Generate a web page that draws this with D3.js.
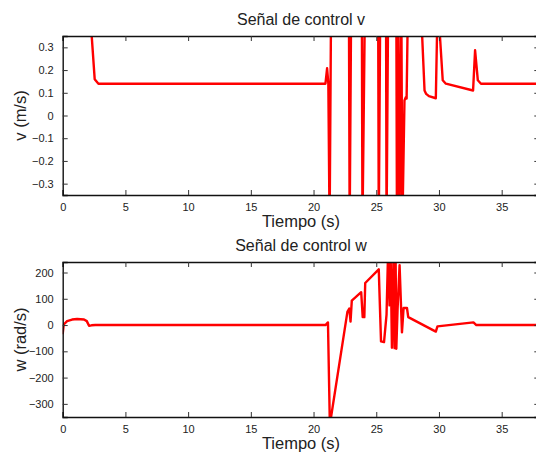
<!DOCTYPE html>
<html>
<head>
<meta charset="utf-8">
<script src="https://cdn.jsdelivr.net/npm/d3@7/dist/d3.min.js"></script>
<style>
  body { margin: 0; background: #fff; }
  text { font-family: "Liberation Sans", Arial, sans-serif; fill: #222; }
</style>
</head>
<body>
<div id="chart"></div>
<script>
// Señal de control v (m/s)
const vTime = [0, 2.3, 2.55, 2.85, 20.95, 21.08, 21.18, 21.28, 21.4,
  22.82, 22.88, 23.0, 23.85, 23.9, 24.1, 25.15, 25.2, 25.32, 25.78, 25.82, 25.95,
  26.6, 26.65, 26.75, 26.85, 27.0, 27.08, 27.25, 27.35, 27.42, 27.53,
  28.62, 28.85, 28.98, 29.2, 29.75, 29.86, 30.02, 30.3, 30.55, 32.72, 32.88, 33.1, 33.35, 38];
const vValue = [0.6, 0.36, 0.16, 0.14, 0.14, 0.208, 0.14, -0.5, 0.5,
  0.5, -0.5, 0.5, 0.5, -0.5, 0.5, 0.5, -0.5, 0.5, 0.5, -0.5, 0.5,
  0.5, -0.5, 0.5, -0.5, 0.5, -0.5, 0.066, 0.08, 0.075, 0.5,
  0.4, 0.11, 0.095, 0.085, 0.076, 0.4, 0.4, 0.155, 0.14, 0.11, 0.287, 0.155, 0.14, 0.14];

// Señal de control w (rad/s)
const wTime = [0, 0.08, 0.35, 0.75, 1.15, 1.7, 1.92, 2.1, 2.3, 2.6, 20.95, 21.15, 21.3,
  22.7, 22.85, 22.95, 23.05, 23.8, 23.92, 24.05, 24.12, 25.2, 25.38, 25.62, 25.82,
  25.95, 26.06, 26.14, 26.25, 26.38, 26.46, 26.54, 26.6, 26.7, 26.86, 27.05, 27.18,
  27.45, 27.55, 29.75, 29.88, 32.75, 32.98, 38];
const wValue = [-35, 2, 15, 21, 23, 21, 15, -3, -1, 0, 0, 10, -380,
  50, 63, 13, 93, 125, 30, 30, 160, 212, -62, -65, 40,
  290, 75, 290, -86, 280, -88, 280, -90, 60, 228, -28, 65,
  65, 30, -25, -5, 10, 0, 0];

const xTicks = [0, 5, 10, 15, 20, 25, 30, 35];
const vTicks = [-0.3, -0.2, -0.1, 0, 0.1, 0.2, 0.3];
const wTicks = [-300, -200, -100, 0, 100, 200];

const width = 536, height = 458;
const svg = d3.select("#chart").append("svg")
  .attr("width", width).attr("height", height);

const x = d3.scaleLinear().domain([0, 38]).range([62.7, 539.3]);
const minus = (s) => s.replace("-", "\u2212");

function drawPanel(opt) {
  const { times, values, domain, ticks, fmt, top, bottom, title, ylabel, id } = opt;
  const y = d3.scaleLinear().domain(domain).range([bottom, top]);
  const g = svg.append("g");

  g.append("clipPath").attr("id", id)
    .append("rect")
    .attr("x", x.range()[0]).attr("y", top)
    .attr("width", x.range()[1] - x.range()[0]).attr("height", bottom - top);

  const pts = times.map((t, i) => [t, values[i]]);
  g.append("path")
    .datum(pts)
    .attr("clip-path", `url(#${id})`)
    .attr("fill", "none")
    .attr("stroke", "#ff0000")
    .attr("stroke-width", 2.4)
    .attr("stroke-linejoin", "round")
    .attr("d", d3.line().x((d) => x(d[0])).y((d) => y(d[1])));

  // axes with inward ticks, box style
  const bottomAxis = d3.axisBottom(x).tickValues(xTicks).tickSize(-5).tickPadding(8)
    .tickFormat(d3.format("d"));
  const topAxis = d3.axisTop(x).tickValues(xTicks).tickSize(-5).tickFormat("");
  const leftAxis = d3.axisLeft(y).tickValues(ticks).tickSize(-5).tickPadding(9)
    .tickFormat((d) => (d === 0 ? "0" : minus(fmt(d))));
  const rightAxis = d3.axisRight(y).tickValues(ticks).tickSize(-5).tickFormat("");

  const axes = [
    [bottomAxis, `translate(0,${bottom})`],
    [topAxis, `translate(0,${top})`],
    [leftAxis, `translate(${x.range()[0]},0)`],
    [rightAxis, `translate(${x.range()[1]},0)`],
  ];
  axes.forEach(([ax, tr]) => {
    const a = g.append("g").attr("transform", tr).call(ax);
    a.select(".domain").attr("stroke", "#111").attr("stroke-width", 1.4);
    a.selectAll(".tick line").attr("stroke", "#333");
    a.selectAll(".tick text").style("font-size", "11px").attr("fill", "#222");
  });

  const cx = (x.range()[0] + x.range()[1]) / 2;
  g.append("text")
    .attr("x", cx).attr("y", top - 11)
    .attr("text-anchor", "middle")
    .style("font-size", "16px")
    .text(title);

  g.append("text")
    .attr("x", cx).attr("y", bottom + 32)
    .attr("text-anchor", "middle")
    .style("font-size", "16.5px")
    .text("Tiempo (s)");

  g.append("text")
    .attr("transform", `translate(26,${(top + bottom) / 2}) rotate(-90)`)
    .attr("text-anchor", "middle")
    .style("font-size", "16.5px")
    .text(ylabel);
}

drawPanel({
  id: "clipV", times: vTime, values: vValue, domain: [-0.35, 0.35], ticks: vTicks,
  fmt: d3.format(".1f"), top: 36, bottom: 195,
  title: "Señal de control v", ylabel: "v (m/s)",
});
drawPanel({
  id: "clipW", times: wTime, values: wValue, domain: [-350, 240], ticks: wTicks,
  fmt: d3.format("d"), top: 262, bottom: 417,
  title: "Señal de control w", ylabel: "w (rad/s)",
});
</script>
</body>
</html>
